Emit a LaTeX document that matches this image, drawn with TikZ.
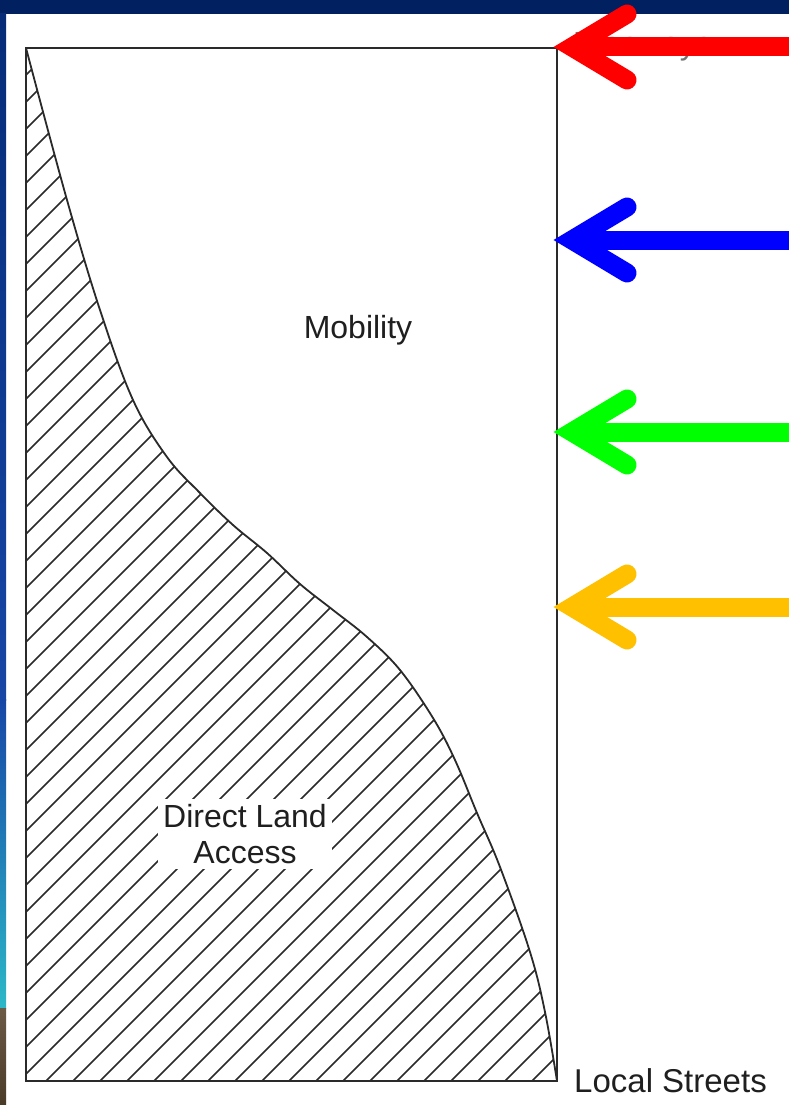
\documentclass[tikz,border=0pt]{standalone}
\usepackage{fontspec}
\setmainfont{Liberation Sans}
\definecolor{navy}{HTML}{00205F}
\definecolor{stripA}{HTML}{062C78}
\definecolor{stripB}{HTML}{1746A6}
\definecolor{stripC}{HTML}{2CB8C8}
\definecolor{brownA}{HTML}{6A5A46}
\definecolor{brownB}{HTML}{4A3A28}
\definecolor{ink}{HTML}{2A2A2A}
\definecolor{arrowred}{HTML}{FF0000}
\definecolor{arrowblue}{HTML}{0000FF}
\definecolor{arrowgreen}{HTML}{00FF00}
\definecolor{arroworange}{HTML}{FFC000}
\begin{document}
\begin{tikzpicture}[x=1pt,y=-1pt,
  frame/.style={draw=ink, line width=2.2pt},
  boundary/.style={draw=ink, line width=1.8pt},
  hatchline/.style={draw=ink, line width=1.5pt},
  label/.style={inner sep=0pt, font=\fontsize{32}{36}\selectfont, text=black!88},
  shaft/.style={line width=19pt, line cap=butt},
  head/.style={line width=19pt, line cap=round, line join=miter}]
\useasboundingbox (0,0) rectangle (789,1105);
% background
\fill[navy] (0,0) rectangle (789,1105);
\fill[white] (6,14) rectangle (789,1105);
\shade[top color=stripA, bottom color=stripB] (0,14) rectangle (6,700);
\shade[top color=stripB, bottom color=stripC] (0,699) rectangle (6,1008);
\shade[top color=brownA, bottom color=brownB] (0,1008) rectangle (6,1105);
% frame corners
\coordinate (TL) at (26,48);
\coordinate (TR) at (557,48);
\coordinate (BR) at (557,1081);
\coordinate (BL) at (26,1081);
% hatched area
\begin{scope}
\clip (TL) plot[smooth, tension=0.6] coordinates {(26,48) (67,200) (100,310) (133,400) (167,457) (200,493) (233,525) (267,553) (300,584) (333,610) (367,637) (400,670) (433,718) (455,760) (477,813) (500,867) (530,952) (545,1012) (557,1081)} -- (BL) -- cycle;
\foreach \c in {74,101,...,1660} \draw[hatchline] (0,\c) -- (\c,0);
\end{scope}
\draw[boundary] plot[smooth, tension=0.6] coordinates {(26,48) (67,200) (100,310) (133,400) (167,457) (200,493) (233,525) (267,553) (300,584) (333,610) (367,637) (400,670) (433,718) (455,760) (477,813) (500,867) (530,952) (545,1012) (557,1081)};
\draw[frame] (TL) -- (TR) -- (BR) -- (BL) -- cycle;
% labels
\node[label, anchor=base] (mob) at (358,338) {Mobility};
\node[label, fill=white, inner sep=5pt, align=center] (dla) at (245,834) {Direct Land\\Access};
\node[label, anchor=base west, font=\fontsize{33}{36}\selectfont] (loc) at (574,1092) {Local Streets};
\node[label, anchor=base west, text=black!55] (fwy) at (573,55) {Freeways};
% arrows
\foreach \y/\col/\nm in {47/arrowred/r, 240/arrowblue/b, 432/arrowgreen/g, 607/arroworange/o}{
  \coordinate (s\nm) at (789,\y);
  \coordinate (t\nm) at (572,\y);
  \coordinate (u\nm) at (627,\y-33);
  \coordinate (d\nm) at (627,\y+33);
  \draw[shaft, \col] (s\nm) -- (t\nm);
  \draw[head, \col] (u\nm) -- (t\nm) -- (d\nm);
}
\end{tikzpicture}
\end{document}
